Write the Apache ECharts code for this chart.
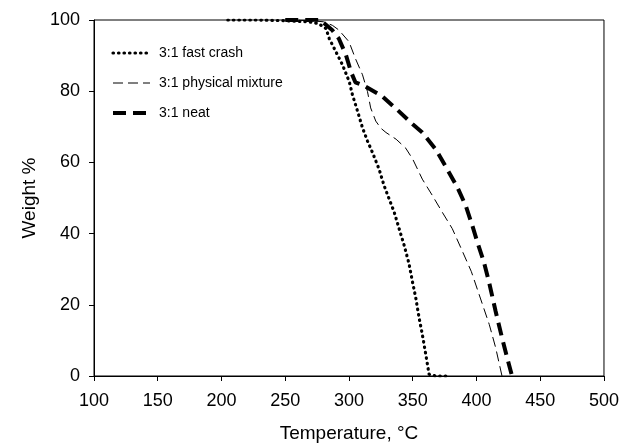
<!DOCTYPE html>
<html>
<head>
<meta charset="utf-8">
<script src="https://cdn.jsdelivr.net/npm/echarts@6/dist/echarts.min.js"></script>
<style>
  html, body { margin: 0; padding: 0; background: #fff; }
  #chart { width: 622px; height: 448px; }
</style>
</head>
<body>
<div id="chart"></div>
<script>
// TGA curves
var fastTemp = [205, 230, 250, 262, 270, 276, 282, 284.5, 289.7, 294.9, 300.2, 302.7, 306.7, 310.6, 314.5, 318.4, 323.6, 327.5, 331.4, 335.4, 339.3, 343.2, 347.1, 349.7, 352.4, 355, 357.5, 360.2, 362.8, 368, 378.5];
var fastWeight = [100, 100, 99.8, 99.6, 99.4, 99.0, 97.6, 94.8, 91.1, 87.4, 82.7, 79.0, 74.4, 69.7, 66.0, 62.8, 58.1, 53.5, 49.8, 46.1, 41.4, 36.8, 31.5, 26.6, 21.9, 16.3, 11.7, 6.1, 0.5, 0, 0];

var physTemp = [250, 270, 280, 287, 292, 300, 305, 310.6, 314.5, 317, 321, 325, 329, 337, 344.5, 350, 357.5, 365.4, 373, 381, 388, 396, 403, 410, 415, 420];
var physWeight = [100, 99.8, 99.5, 98.5, 97.2, 93.9, 89.2, 84.6, 79.9, 75.3, 71.6, 69.6, 68.4, 66.5, 64.0, 60.9, 55.3, 50.7, 46.1, 41.4, 35.8, 29.3, 21.9, 14.5, 8.0, 0];

var neatTemp = [250, 270, 277, 287, 292, 297.6, 301.5, 305, 312, 326, 339, 350, 357.5, 368, 377, 385, 391.5, 396.7, 400.6, 405.8, 409.7, 415, 420, 424, 427.5, 428];
var neatWeight = [100, 100, 100.2, 97.1, 94.8, 90.2, 85.5, 82.5, 81.5, 78.6, 74.4, 70.7, 68.4, 63.7, 58.1, 53.0, 47.9, 42.3, 37.7, 32.0, 26.6, 18.2, 10.8, 5.2, 0.5, 0];

var seriesNames = ['3:1 fast crash', '3:1 physical mixture', '3:1 neat'];

function pairs(xs, ys) {
  var out = [];
  for (var i = 0; i < xs.length; i++) {
    out.push([xs[i], ys[i]]);
  }
  return out;
}

var chart = echarts.init(document.getElementById('chart'));
var font = 'Liberation Sans, Arial, sans-serif';

// line looks, shared by series and legend
var styles = [
  { color: '#000', width: 3.2, type: [0.5, 5], cap: 'round' },
  { color: '#000', width: 1, type: [10, 5] },
  { color: '#000', width: 4, type: [13, 7] }
];

var option = {
  animation: false,
  textStyle: { fontFamily: font },
  grid: {
    left: 94, right: 17, top: 20, bottom: 69,
    show: true, borderColor: '#000', borderWidth: 1
  },
  legend: {
    orient: 'vertical',
    left: 106, top: 41,
    itemWidth: 37, itemHeight: 14, itemGap: 16,
    itemStyle: { opacity: 0 },
    textStyle: { fontSize: 14, color: '#000', fontFamily: font, padding: [0, 0, 0, 4] },
    data: seriesNames.map(function (n, i) {
      return { name: n, lineStyle: styles[i] };
    })
  },
  xAxis: {
    type: 'value',
    min: 100, max: 500, interval: 50,
    name: 'Temperature, °C',
    nameLocation: 'middle',
    nameGap: 48,
    nameTextStyle: { fontSize: 19, color: '#000' },
    axisLine: { lineStyle: { color: '#000', width: 1 } },
    axisTick: { show: true, length: 5, lineStyle: { color: '#000' } },
    axisLabel: { fontSize: 18, color: '#000', margin: 16 },
    splitLine: { show: false }
  },
  yAxis: {
    type: 'value',
    min: 0, max: 100, interval: 20,
    name: 'Weight %',
    nameLocation: 'middle',
    nameGap: 54,
    nameTextStyle: { fontSize: 19, color: '#000' },
    axisLine: { show: true, lineStyle: { color: '#000', width: 1 } },
    axisTick: { show: true, length: 5, lineStyle: { color: '#000' } },
    axisLabel: { fontSize: 18, color: '#000', margin: 14 },
    splitLine: { show: false }
  },
  series: [{
    name: seriesNames[0],
    type: 'line',
    symbol: 'none',
    color: '#000',
    lineStyle: styles[0],
    data: pairs(fastTemp, fastWeight)
  }, {
    name: seriesNames[1],
    type: 'line',
    symbol: 'none',
    color: '#000',
    lineStyle: styles[1],
    data: pairs(physTemp, physWeight)
  }, {
    name: seriesNames[2],
    type: 'line',
    symbol: 'none',
    color: '#000',
    lineStyle: styles[2],
    data: pairs(neatTemp, neatWeight)
  }]
};
chart.setOption(option);
</script>
</body>
</html>
